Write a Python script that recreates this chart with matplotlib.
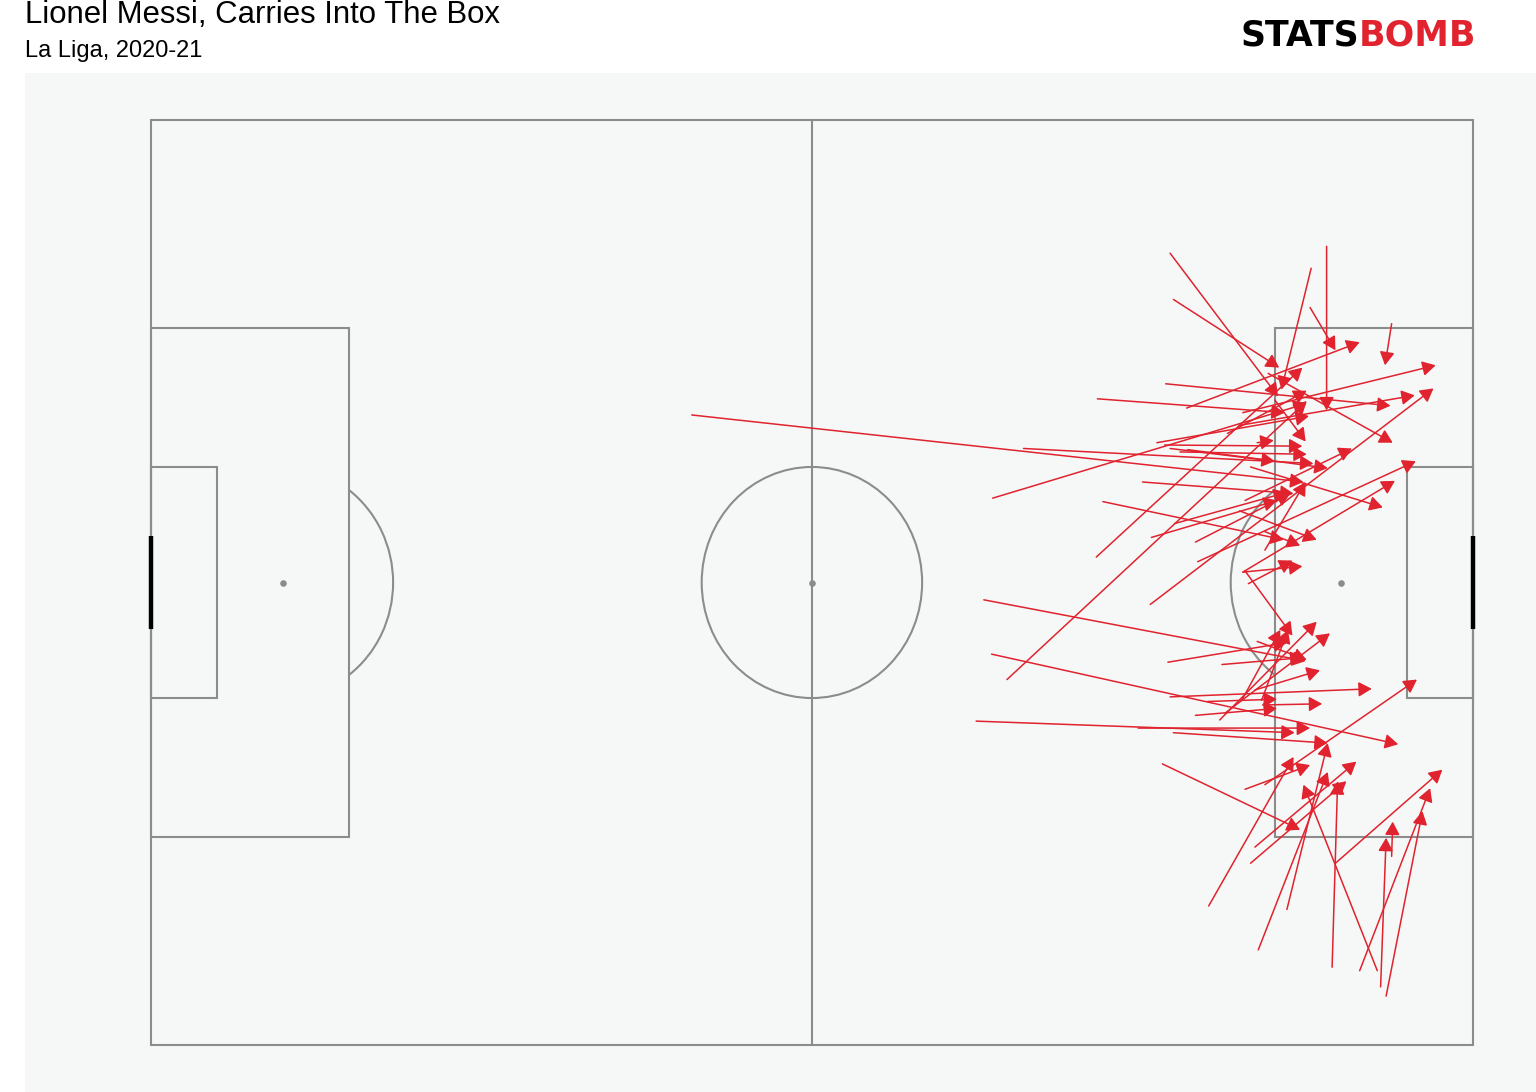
import matplotlib
matplotlib.use("Agg")
import matplotlib.pyplot as plt
from matplotlib.patches import Rectangle, Circle, Arc

# Messi carries into the box, StatsBomb pitch coords (120 x 80, y down)
start_x = [49.1, 79.2, 76.4, 85.9, 92.1, 92.5, 92.8, 105.3, 106.7, 105.2,
           112.6, 94.0, 101.4, 99.1, 90.7, 98.8, 85.8, 77.7, 86.4, 90.8,
           98.8, 101.1, 101.1, 90.0, 99.1, 99.1, 99.3, 99.6, 95.0, 94.8,
           92.9, 91.3, 92.5, 92.0, 99.8, 97.7, 75.6, 76.3, 74.9, 89.6,
           92.8, 92.3, 97.2, 100.4, 92.5, 95.9, 100.9, 94.8, 97.0, 97.5,
           99.0, 100.8, 100.2, 96.0, 99.3, 101.1, 100.2, 99.8, 103.1, 100.5,
           107.2, 107.5, 111.3, 109.7, 112.1, 111.6, 112.6, 91.8, 100.4, 102.0,
           94.1, 99.3, 93.4]
start_y = [25.5, 28.4, 32.7, 24.1, 22.8, 11.5, 15.5, 12.8, 10.9, 16.2,
           17.6, 24.9, 21.9, 25.3, 41.9, 26.4, 37.8, 48.4, 33.0, 36.1,
           33.8, 35.6, 37.2, 31.3, 39.1, 39.1, 39.0, 40.1, 38.2, 36.5,
           34.9, 27.9, 28.4, 28.1, 30.0, 27.1, 41.5, 46.2, 52.0, 52.6,
           53.0, 46.9, 47.1, 45.1, 49.9, 50.3, 50.6, 51.5, 51.9, 51.3,
           50.2, 50.2, 49.3, 68.0, 57.9, 57.5, 62.9, 64.3, 68.3, 71.8,
           73.3, 64.3, 73.6, 73.6, 75.8, 75.0, 63.7, 55.7, 27.9, 24.2,
           28.5, 32.9, 28.7]
end_x = [104.6, 105.5, 104.9, 102.9, 112.5, 102.3, 102.4, 102.6, 106.7, 107.5,
         112.0, 109.7, 112.7, 116.6, 116.4, 114.7, 104.5, 104.9, 102.8, 102.2,
         105.8, 104.3, 104.8, 103.7, 112.9, 104.5, 103.6, 103.6, 114.8, 103.4,
         103.1, 105.1, 102.0, 104.5, 111.8, 104.9, 104.8, 113.2, 103.8, 105.2,
         106.8, 103.1, 104.6, 104.9, 110.8, 102.2, 106.3, 102.2, 105.8, 107.0,
         102.5, 103.2, 106.1, 103.7, 105.2, 114.9, 109.4, 108.5, 106.8, 106.8,
         107.7, 117.2, 104.6, 116.1, 115.4, 112.1, 112.7, 104.3, 101.9, 104.8,
         106.8, 109.0, 104.9]
end_y = [31.3, 29.7, 24.5, 25.3, 24.7, 23.9, 21.4, 23.3, 25.1, 19.9,
         21.2, 19.2, 27.9, 21.2, 23.2, 23.8, 21.4, 24.3, 36.3, 32.9,
         36.3, 36.8, 31.3, 32.3, 31.2, 38.6, 44.6, 38.1, 29.5, 32.3,
         32.2, 25.6, 29.5, 28.2, 33.5, 23.4, 46.8, 54.0, 53.0, 52.6,
         53.9, 45.2, 46.5, 46.7, 49.2, 50.1, 50.5, 50.9, 43.4, 44.4,
         44.1, 44.1, 47.6, 55.1, 55.8, 48.4, 55.5, 57.2, 53.9, 56.4,
         57.2, 56.2, 57.5, 57.8, 59.8, 62.1, 60.7, 61.4, 27.7, 27.8,
         30.1, 28.4, 28.9]

TITLE = "Lionel Messi, Carries Into The Box"
SUBTITLE = "La Liga, 2020-21"

LINE_C = "#8c8c8c"
PITCH_BG = "#f6f8f8"
RED = "#e0232e"


def draw_pitch(ax):
    kw = dict(fill=False, edgecolor=LINE_C, lw=1.5, zorder=1)
    ax.add_patch(Rectangle((0, 0), 120, 80, **kw))
    ax.plot([60, 60], [0, 80], color=LINE_C, lw=1.5, zorder=1)
    ax.add_patch(Circle((60, 40), 10, **kw))
    ax.scatter([60, 12, 108], [40, 40, 40], s=14, color=LINE_C, zorder=1)
    # boxes
    ax.add_patch(Rectangle((0, 18), 18, 44, **kw))
    ax.add_patch(Rectangle((102, 18), 18, 44, **kw))
    ax.add_patch(Rectangle((0, 30), 6, 20, **kw))
    ax.add_patch(Rectangle((114, 30), 6, 20, **kw))
    # penalty arcs
    ax.add_patch(Arc((12, 40), 20, 20, theta1=-53.13, theta2=53.13,
                     edgecolor=LINE_C, lw=1.5, zorder=1))
    ax.add_patch(Arc((108, 40), 20, 20, theta1=126.87, theta2=233.13,
                     edgecolor=LINE_C, lw=1.5, zorder=1))
    # goals
    ax.plot([0, 0], [36, 44], color="black", lw=3.2, zorder=2,
            solid_capstyle="butt")
    ax.plot([120, 120], [36, 44], color="black", lw=3.2, zorder=2,
            solid_capstyle="butt")


fig = plt.figure(figsize=(15.36, 10.92), dpi=100)
fig.patch.set_facecolor("white")
ax = fig.add_axes([25 / 1536, 0, 1511 / 1536, 1019 / 1092])
ax.set_facecolor(PITCH_BG)
ax.set_xlim(-11.4, 125.7)
ax.set_ylim(84.1, -4.1)
ax.set_aspect("auto")
ax.axis("off")
ax.add_patch(Rectangle((0, 0), 1, 1, transform=ax.transAxes,
                       facecolor=PITCH_BG, edgecolor="none", zorder=0))

draw_pitch(ax)

for x0, y0, x1, y1 in zip(start_x, start_y, end_x, end_y):
    ax.annotate("", xy=(x1, y1), xytext=(x0, y0),
                arrowprops=dict(arrowstyle="-|>,head_length=0.5,head_width=0.28",
                                color=RED, lw=1.1,
                                mutation_scale=16, shrinkA=0, shrinkB=0),
                zorder=3)

fig.text(25 / 1536, 1 - 23 / 1092, TITLE, fontsize=22.4,
         family="Liberation Sans", va="baseline", ha="left")
fig.text(25 / 1536, 1 - 57 / 1092, SUBTITLE, fontsize=17,
         family="Liberation Sans", va="baseline", ha="left")

# StatsBomb wordmark
fig.text(1359 / 1536, 1 - 45 / 1092, "STATS", fontsize=25, weight="heavy",
         family="DejaVu Sans", color="black", va="baseline", ha="right")
fig.text(1359 / 1536, 1 - 45 / 1092, "BOMB", fontsize=25, weight="heavy",
         family="DejaVu Sans", color=RED, va="baseline", ha="left")

fig.savefig("out.png", dpi=100, facecolor="white")
